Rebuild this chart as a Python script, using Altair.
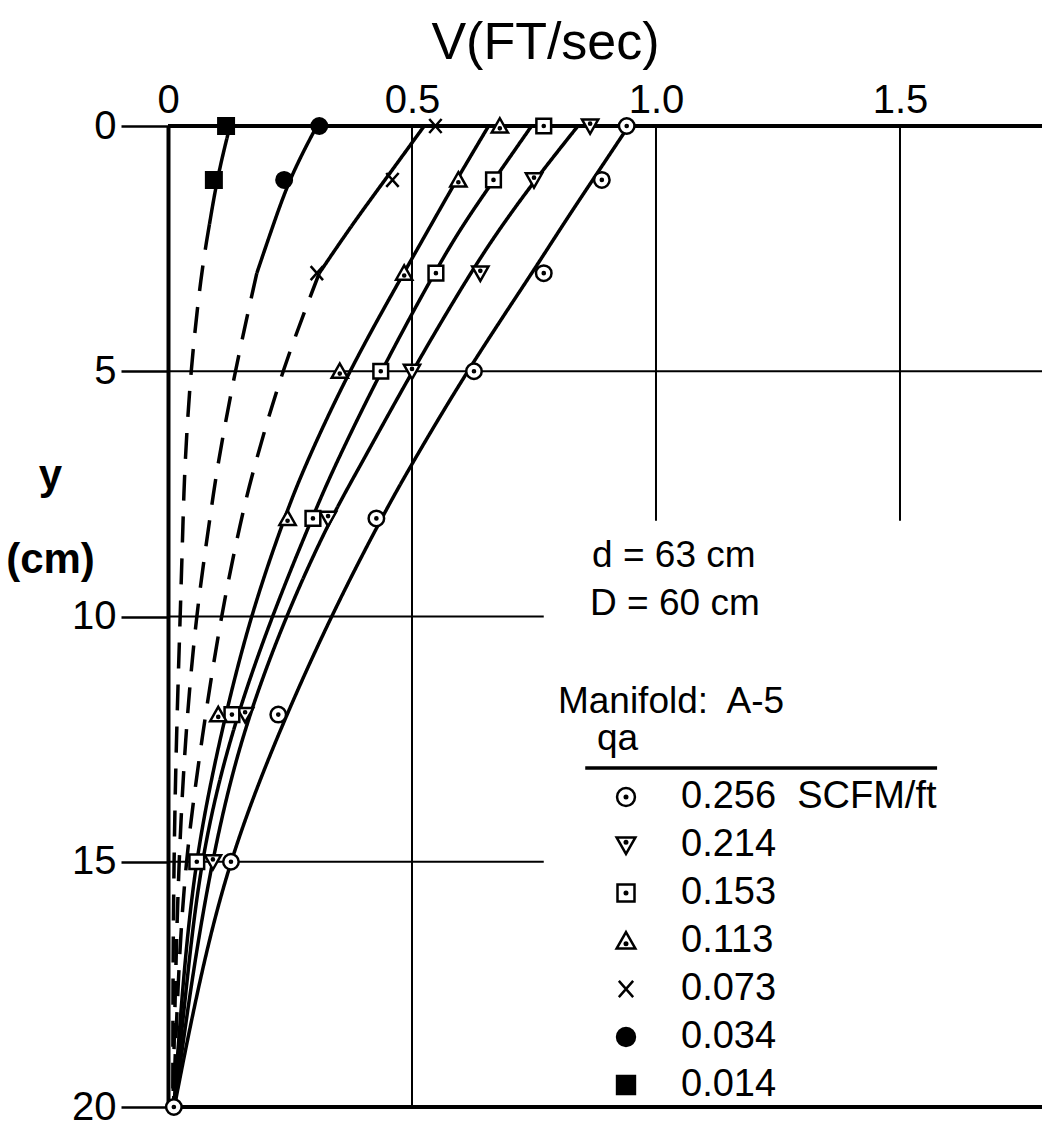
import altair as alt
import pandas as pd

# ---------------- data ----------------
series = ["0.256", "0.214", "0.153", "0.113", "0.073", "0.034", "0.014"]

# measured points (y in cm, V in ft/sec)
y_256 = [0, 1.1, 3, 5, 8, 12, 15, 20]
v_256 = [0.94, 0.889, 0.77, 0.627, 0.427, 0.226, 0.129, 0.012]
y_214 = [0, 1.1, 3, 5, 8, 12, 15]
v_214 = [0.865, 0.75, 0.64, 0.50, 0.328, 0.158, 0.092]
y_153 = [0, 1.1, 3, 5, 8, 12, 15]
v_153 = [0.77, 0.667, 0.549, 0.436, 0.297, 0.131, 0.059]
y_113 = [0, 1.1, 3, 5, 8, 12]
v_113 = [0.68, 0.595, 0.484, 0.352, 0.245, 0.103]
y_073 = [0, 1.1, 3]
v_073 = [0.548, 0.46, 0.305]
y_034 = [0, 1.1]
v_034 = [0.31, 0.238]
y_014 = [0, 1.1]
v_014 = [0.119, 0.094]

# fitted curves, read at these depths
curve_y = [0, 1, 2, 3, 5, 7, 8, 10, 12.5, 15, 17.5, 20]
curve_256 = [0.944, 0.877, 0.81, 0.746, 0.612, 0.493, 0.437, 0.333, 0.22, 0.124, 0.062, 0.013]
curve_214 = [0.84, 0.76, 0.686, 0.619, 0.50, 0.39, 0.333, 0.24, 0.147, 0.089, 0.047, 0.013]
curve_153 = [0.745, 0.675, 0.605, 0.545, 0.436, 0.338, 0.295, 0.212, 0.124, 0.066, 0.038, 0.012]
curve_113 = [0.657, 0.597, 0.54, 0.483, 0.37, 0.277, 0.238, 0.168, 0.105, 0.055, 0.03, 0.012]
curve_073 = [0.525, 0.452, 0.378, 0.31, 0.233, 0.175, 0.150, 0.108, 0.069, 0.035, 0.02, 0.011]
curve_034 = [0.305, 0.252, 0.216, 0.182, 0.137, 0.100, 0.086, 0.057, 0.035, 0.022, 0.015, 0.01]
curve_014 = [0.127, 0.102, 0.085, 0.068, 0.046, 0.034, 0.031, 0.025, 0.017, 0.012, 0.01, 0.01]
solid_until = [20, 20, 20, 20, 3, 3, 2]   # depth where the line turns dashed

# grid / frame lines (data units)
grid_x = [0, 0, 0, 0, 0, 0.5, 1.0, 1.5]
grid_x2 = [1.791, 1.791, 1.791, 0.77, 0.77, 0.5, 1.0, 1.5]
grid_y = [0, 20, 5, 10, 15, 0, 0, 0]
grid_y2 = [0, 20, 5, 10, 15, 20, 8.05, 8.05]
grid_w = [4, 4, 2, 2, 2, 2, 2, 2]

# annotation texts
note_text = ["d = 63 cm", "D = 60 cm", "Manifold:\u00a0 A-5", "qa"]
note_x = [0.869, 0.865, 0.799, 0.879]
note_y = [8.99, 9.97, 11.97, 12.72]

# ---------------- tables ----------------
pts_y = [y_256, y_214, y_153, y_113, y_073, y_034, y_014]
pts_v = [v_256, v_214, v_153, v_113, v_073, v_034, v_014]
curves = [curve_256, curve_214, curve_153, curve_113, curve_073, curve_034, curve_014]

pts_rows = []
for s, ys, vs in zip(series, pts_y, pts_v):
    for a, b in zip(ys, vs):
        pts_rows.append({"qa": s, "y": a, "v": b})
pts_df = pd.DataFrame(pts_rows)

curve_rows = []
for s, vals, t in zip(series, curves, solid_until):
    for a, b in zip(curve_y, vals):
        if a <= t:
            curve_rows.append({"qa": s, "seg": "solid", "y": a, "v": b})
        if a >= t and t < 20:
            curve_rows.append({"qa": s, "seg": "dashed", "y": a, "v": b})
curve_df = pd.DataFrame(curve_rows)

grid_df = pd.DataFrame({"x": grid_x, "x2": grid_x2, "y": grid_y, "y2": grid_y2, "w": grid_w})
note_df = pd.DataFrame({"text": note_text, "x": note_x, "y": note_y})
uline_df = pd.DataFrame({"x": [0.855], "x2": [1.576], "y": [13.09]})

# ---------------- styling ----------------
REG = "Liberation Sans, Arial, sans-serif"

dot = " M-0.14,0 A0.14,0.14 0 1,0 0.14,0 A0.14,0.14 0 1,0 -0.14,0 Z"
dotd = " M-0.14,-0.3 A0.14,0.14 0 1,0 0.14,-0.3 A0.14,0.14 0 1,0 -0.14,-0.3 Z"
dotu = " M-0.14,0.3 A0.14,0.14 0 1,0 0.14,0.3 A0.14,0.14 0 1,0 -0.14,0.3 Z"
shapes = [
    "M-1,0 A1,1 0 1,0 1,0 A1,1 0 1,0 -1,0 Z" + dot,
    "M-1.05,-0.85 L1.05,-0.85 L0,1 Z" + dotd,
    "M-0.95,-0.95 L0.95,-0.95 L0.95,0.95 L-0.95,0.95 Z" + dot,
    "M0,-1 L1.05,0.85 L-1.05,0.85 Z" + dotu,
    "M-0.8,-0.9 L0.8,0.9 M-0.8,0.9 L0.8,-0.9",
    "circle",
    "square",
]
fills = ["white", "white", "white", "white", "white", "black", "black"]
strokes = ["black"] * 7

xscale = alt.Scale(domain=[0, 1.791], nice=False, zero=False)
yscale = alt.Scale(domain=[0, 20], reverse=True, nice=False, zero=False)

x_axis = alt.Axis(
    orient="top", values=[0, 0.5, 1.0, 1.5], ticks=False, domain=False, grid=False,
    labelFontSize=40, labelFont=REG, labelColor="black", labelPadding=6,
    labelFlush=False, labelOverlap=False,
    labelExpr="datum.value == 0 ? '0' : format(datum.value, '.1f')",
    title="V(FT/sec)", titleFontSize=52, titleFont=REG, titleFontWeight="normal",
    titleColor="black", titleX=377, titleY=-68, titleAlign="center",
    titleBaseline="alphabetic",
)
y_axis = alt.Axis(
    orient="left", values=[0, 5, 10, 15, 20], tickSize=47, tickWidth=2.5,
    tickColor="black", domainColor="black", domainWidth=4, grid=False,
    labelFontSize=40, labelFont=REG, labelColor="black", labelPadding=5,
    labelFlush=False, labelOverlap=False,
    title=["y", "(cm)"], titleFontSize=42, titleFont=REG, titleFontWeight="bold",
    titleColor="black", titleAngle=0, titleX=-118, titleY=362, titleAlign="center",
    titleBaseline="alphabetic", titleLineHeight=84,
)

X = alt.X("v:Q", scale=xscale, axis=x_axis)
Y = alt.Y("y:Q", scale=yscale, axis=y_axis)

grid = alt.Chart(grid_df).mark_rule(color="black").encode(
    x=alt.X("x:Q", scale=xscale, axis=x_axis),
    x2="x2:Q",
    y=alt.Y("y:Q", scale=yscale, axis=y_axis),
    y2="y2:Q",
    strokeWidth=alt.StrokeWidth("w:Q", scale=None),
)

lines = alt.Chart(curve_df).mark_line(
    interpolate="basis", color="black", strokeWidth=3.5
).encode(
    x=X, y=Y,
    detail=["qa:N", "seg:N"],
    order="y:Q",
    strokeDash=alt.StrokeDash(
        "seg:N", scale=alt.Scale(domain=["solid", "dashed"], range=[[1, 0], [26, 16]]),
        legend=None,
    ),
)

leg = alt.Legend(
    title=None, orient="none", legendX=439, legendY=652, direction="vertical",
    symbolSize=320, symbolStrokeWidth=2.5, symbolStrokeColor="black",
    labelFontSize=38, labelFont=REG, labelColor="black", labelOffset=36,
    rowPadding=10, labelLimit=0, padding=0,
    labelExpr="datum.label == '0.256' ? '0.256\u00a0 SCFM/ft' : datum.label",
)

points = alt.Chart(pts_df).mark_point(
    filled=True, strokeWidth=2.5, opacity=1, size=240
).encode(
    x=X, y=Y,
    shape=alt.Shape("qa:N", scale=alt.Scale(domain=series, range=shapes), legend=leg,
                    sort=series),
    fill=alt.Fill("qa:N", scale=alt.Scale(domain=series, range=fills), legend=leg,
                  sort=series),
    stroke=alt.Stroke("qa:N", scale=alt.Scale(domain=series, range=strokes), legend=leg,
                      sort=series),
)

notes = alt.Chart(note_df).mark_text(
    align="left", baseline="alphabetic", fontSize=37, font=REG, color="black"
).encode(
    x=alt.X("x:Q", scale=xscale, axis=x_axis),
    y=alt.Y("y:Q", scale=yscale, axis=y_axis),
    text="text:N",
)

uline = alt.Chart(uline_df).mark_rule(color="black", strokeWidth=3.5).encode(
    x=alt.X("x:Q", scale=xscale, axis=x_axis),
    x2="x2:Q",
    y=alt.Y("y:Q", scale=yscale, axis=y_axis),
)

chart = alt.layer(grid, lines, points, notes, uline).properties(
    width=874, height=981,
    autosize=alt.AutoSizeParams(type="none"),
    padding={"left": 168, "top": 126, "right": 0, "bottom": 21},
).configure_view(stroke=None).configure(background="white")

chart.save("out.html", embed_options={"renderer": "svg", "actions": False})
